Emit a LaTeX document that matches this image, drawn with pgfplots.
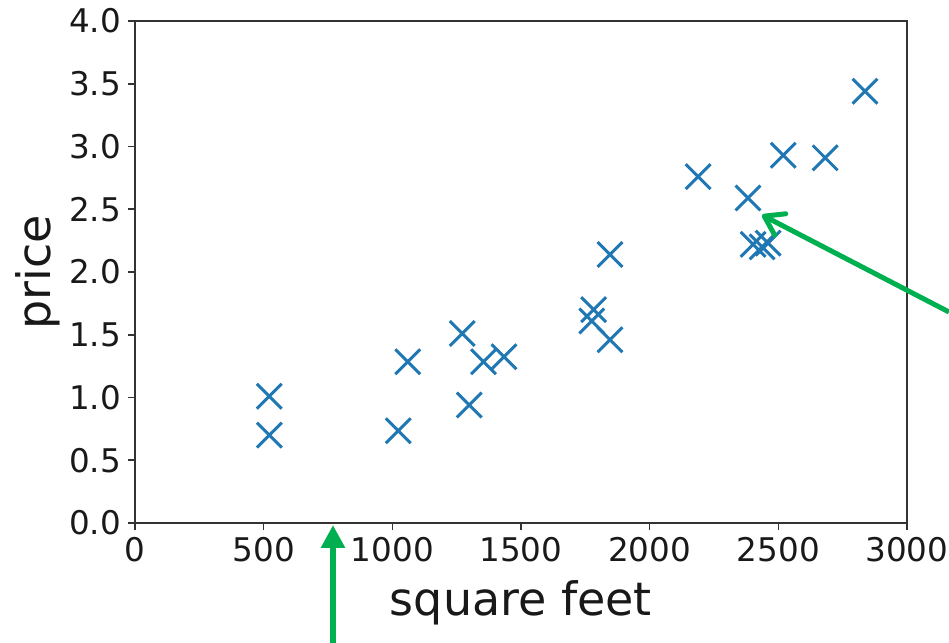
\documentclass[border=0pt]{standalone}
\usepackage{pgfplots}
\pgfplotsset{compat=1.18}
\usepackage{fontspec}
\setmainfont{DejaVu Sans}
\usetikzlibrary{arrows.meta}
\definecolor{mplblue}{HTML}{1F77B4}
\definecolor{arrowgreen}{HTML}{00B050}
\begin{document}
\begin{tikzpicture}
\path[use as bounding box] (-67.5pt,-60pt) rectangle (407pt,261.5pt);
\begin{axis}[
  at={(0,0)}, anchor=south west,
  scale only axis, width=386pt, height=251pt,
  xmin=0, xmax=3000, ymin=0, ymax=4,
  xtick={0,500,...,3000},
  ytick={0,0.5,1,1.5,2,2.5,3,3.5,4},
  yticklabel style={/pgf/number format/.cd,fixed,fixed zerofill,precision=1},
  /pgf/number format/1000 sep={},
  /pgf/number format/assume math mode=true,
  tick label style={font=\fontsize{16.3}{19}\selectfont, text=black!90},
  tick align=outside, tick pos=left,
  major tick length=3.5pt,
  every tick/.style={black!80, line width=0.8pt},
  axis line style={black!80, line width=0.8pt},
  xlabel={square feet}, ylabel={price},
  label style={font=\fontsize{23}{27}\selectfont, text=black!90},
  xlabel style={at={(axis description cs:0.5,-0.1594)}, anchor=center},
  ylabel style={at={(axis description cs:-0.1256,0.5)}, anchor=center},
  clip=false,
]
\addplot[only marks, mark=x, mark size=8.8pt, mplblue, line width=1.5pt] coordinates {
(522,1.01) (522,0.70) (1023,0.735) (1060,1.285) (1272,1.51) (1299,0.94)
(1354,1.285) (1434,1.325) (1782,1.70) (1775,1.61) (1846,2.14) (1846,1.46)
(2188,2.76) (2382,2.59) (2402,2.22) (2437,2.20) (2460,2.23) (2519,2.93)
(2682,2.91) (2837,3.44)
};
\end{axis}
\draw[arrowgreen, line width=3pt, -{Triangle[length=11.5pt,width=11.5pt]}] (99pt,-60pt) -- (99pt,-1pt);
\draw[arrowgreen, line width=2.5pt, -{Straight Barb[length=9pt,width=12pt,round]}] (407pt,105.5pt) -- (313.5pt,154pt);
\end{tikzpicture}
\end{document}
